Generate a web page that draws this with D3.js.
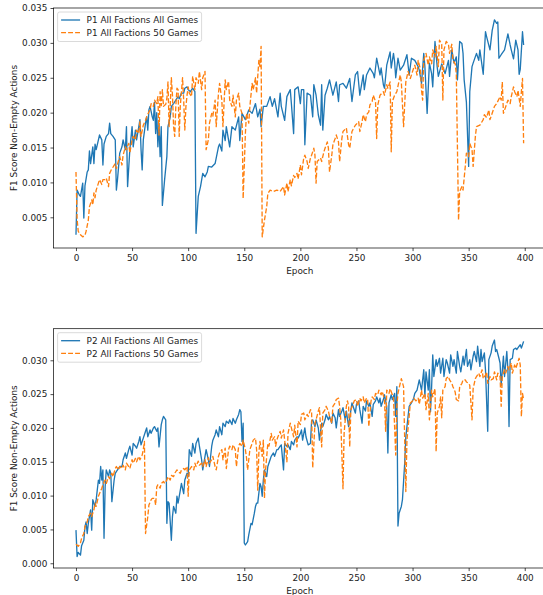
<!DOCTYPE html>
<html>
<head>
<meta charset="utf-8">
<script src="https://cdn.jsdelivr.net/npm/d3@7"></script>
<style>
	body { margin: 0; background: #ffffff; }
	svg { display: block; font-family: "DejaVu Sans", sans-serif; }
</style>
</head>
<body>
<div id="chart"></div>
<script>
// Values, as [epoch, F1 score] pairs.
const p1AllGames = [[0,0.0025],[1,0.0089],[3,0.0082],[4,0.0080],[6,0.0099],[7,0.0049],[8,0.0095],[10,0.0115],[11,0.0118],[12,0.0145],[13,0.0127],[15,0.0151],[16,0.0127],[17,0.0155],[18,0.0147],[20,0.0161],[21,0.0168],[23,0.0161],[24,0.0125],[25,0.0155],[27,0.0166],[29,0.0170],[30,0.0185],[31,0.0170],[33,0.0166],[35,0.0161],[36,0.0089],[37,0.0104],[39,0.0142],[41,0.0151],[42,0.0161],[44,0.0147],[45,0.0180],[46,0.0094],[48,0.0147],[50,0.0180],[51,0.0151],[53,0.0175],[54,0.0161],[56,0.0180],[57,0.0190],[58,0.0147],[59,0.0118],[60,0.0161],[62,0.0185],[63,0.0194],[64,0.0175],[65,0.0204],[66,0.0209],[68,0.0194],[69,0.0189],[70,0.0215],[71,0.0170],[72,0.0200],[73,0.0151],[74,0.0185],[75,0.0137],[76,0.0180],[77,0.0067],[79,0.0104],[81,0.0137],[82,0.0180],[84,0.0194],[85,0.0209],[87,0.0213],[89,0.0218],[91,0.0223],[92,0.0220],[94,0.0228],[96,0.0228],[97,0.0235],[99,0.0237],[100,0.0233],[102,0.0230],[104,0.0235],[106,0.0230],[107,0.0027],[109,0.0080],[111,0.0094],[113,0.0113],[115,0.0108],[117,0.0115],[118,0.0123],[121,0.0122],[124,0.0127],[127,0.0151],[128,0.0155],[130,0.0145],[131,0.0175],[133,0.0160],[134,0.0180],[137,0.0151],[139,0.0180],[142,0.0175],[145,0.0194],[146,0.0160],[148,0.0199],[151,0.0190],[154,0.0204],[157,0.0199],[160,0.0213],[162,0.0194],[164,0.0205],[165,0.0180],[167,0.0209],[170,0.0209],[173,0.0223],[175,0.0209],[177,0.0220],[180,0.0194],[182,0.0228],[183,0.0209],[186,0.0189],[188,0.0223],[191,0.0233],[192,0.0213],[194,0.0170],[195,0.0233],[198,0.0237],[200,0.0213],[201,0.0233],[203,0.0233],[204,0.0154],[206,0.0228],[209,0.0225],[211,0.0194],[212,0.0240],[214,0.0225],[216,0.0197],[218,0.0182],[219,0.0240],[220,0.0175],[222,0.0225],[224,0.0235],[226,0.0247],[229,0.0225],[232,0.0244],[234,0.0216],[235,0.0240],[238,0.0242],[241,0.0235],[244,0.0249],[246,0.0216],[249,0.0254],[251,0.0259],[253,0.0225],[256,0.0254],[257,0.0233],[259,0.0254],[262,0.0264],[265,0.0256],[266,0.0250],[268,0.0278],[271,0.0254],[272,0.0264],[274,0.0240],[275,0.0235],[277,0.0268],[280,0.0287],[281,0.0264],[283,0.0285],[284,0.0273],[285,0.0250],[287,0.0278],[289,0.0261],[292,0.0268],[295,0.0283],[297,0.0254],[299,0.0278],[302,0.0275],[305,0.0266],[306,0.0261],[308,0.0242],[310,0.0285],[311,0.0266],[313,0.0199],[315,0.0271],[317,0.0256],[318,0.0237],[320,0.0302],[322,0.0265],[323,0.0252],[326,0.0270],[329,0.0256],[332,0.0275],[333,0.0252],[335,0.0290],[337,0.0271],[339,0.0280],[340,0.0247],[342,0.0302],[344,0.0299],[345,0.0285],[346,0.0247],[348,0.0215],[350,0.0123],[351,0.0230],[353,0.0266],[354,0.0271],[357,0.0285],[359,0.0275],[360,0.0290],[363,0.0255],[365,0.0316],[366,0.0309],[369,0.0290],[371,0.0318],[373,0.0333],[375,0.0328],[376,0.0330],[377,0.0278],[379,0.0283],[382,0.0290],[385,0.0313],[387,0.0297],[388,0.0290],[390,0.0277],[392,0.0304],[394,0.0290],[395,0.0255],[396,0.0262],[398,0.0316],[399,0.0297]];

const p1FiftyGames = [[0,0.0115],[1,0.0047],[2,0.0030],[4,0.0025],[6,0.0022],[8,0.0024],[9,0.0030],[11,0.0046],[12,0.0065],[14,0.0075],[15,0.0068],[16,0.0085],[17,0.0078],[18,0.0089],[20,0.0099],[21,0.0104],[23,0.0097],[24,0.0104],[26,0.0104],[27,0.0106],[29,0.0094],[30,0.0113],[32,0.0120],[33,0.0122],[35,0.0127],[36,0.0120],[38,0.0132],[39,0.0137],[41,0.0125],[42,0.0139],[44,0.0151],[45,0.0147],[47,0.0156],[48,0.0142],[50,0.0161],[51,0.0166],[53,0.0161],[54,0.0175],[56,0.0170],[57,0.0187],[58,0.0166],[60,0.0182],[62,0.0189],[63,0.0194],[65,0.0201],[66,0.0204],[67,0.0213],[69,0.0209],[70,0.0218],[72,0.0213],[73,0.0223],[74,0.0168],[75,0.0230],[76,0.0210],[77,0.0233],[78,0.0209],[80,0.0212],[81,0.0220],[82,0.0244],[83,0.0180],[84,0.0209],[85,0.0250],[86,0.0225],[87,0.0180],[88,0.0166],[89,0.0209],[90,0.0235],[91,0.0233],[92,0.0166],[93,0.0210],[94,0.0230],[95,0.0250],[96,0.0218],[97,0.0175],[98,0.0209],[99,0.0225],[100,0.0237],[101,0.0228],[103,0.0223],[104,0.0252],[106,0.0233],[107,0.0250],[109,0.0242],[110,0.0259],[112,0.0233],[113,0.0250],[115,0.0259],[116,0.0147],[118,0.0161],[119,0.0185],[121,0.0199],[122,0.0195],[124,0.0218],[125,0.0180],[127,0.0228],[128,0.0242],[130,0.0218],[131,0.0180],[133,0.0247],[134,0.0233],[136,0.0245],[137,0.0218],[139,0.0209],[140,0.0225],[142,0.0194],[143,0.0218],[145,0.0228],[146,0.0209],[148,0.0199],[149,0.0077],[151,0.0170],[152,0.0199],[154,0.0185],[155,0.0209],[157,0.0242],[158,0.0233],[160,0.0250],[161,0.0228],[163,0.0275],[164,0.0266],[165,0.0295],[166,0.0022],[168,0.0046],[170,0.0065],[171,0.0084],[173,0.0089],[176,0.0087],[179,0.0089],[182,0.0087],[185,0.0094],[186,0.0082],[188,0.0099],[189,0.0087],[191,0.0104],[192,0.0095],[194,0.0110],[195,0.0107],[197,0.0113],[198,0.0105],[200,0.0125],[201,0.0111],[203,0.0135],[204,0.0139],[206,0.0130],[207,0.0120],[209,0.0135],[210,0.0139],[212,0.0149],[213,0.0139],[214,0.0099],[215,0.0130],[218,0.0135],[219,0.0130],[221,0.0144],[222,0.0149],[224,0.0158],[225,0.0149],[226,0.0115],[228,0.0139],[229,0.0154],[231,0.0163],[232,0.0168],[234,0.0158],[235,0.0130],[237,0.0163],[238,0.0173],[241,0.0178],[243,0.0154],[244,0.0149],[246,0.0173],[249,0.0182],[252,0.0187],[253,0.0173],[255,0.0187],[256,0.0197],[258,0.0187],[259,0.0197],[261,0.0201],[262,0.0211],[264,0.0216],[265,0.0225],[267,0.0216],[268,0.0163],[269,0.0211],[271,0.0225],[274,0.0230],[275,0.0225],[277,0.0240],[278,0.0235],[280,0.0244],[281,0.0144],[282,0.0216],[284,0.0225],[286,0.0230],[289,0.0254],[290,0.0244],[292,0.0180],[294,0.0244],[296,0.0259],[298,0.0249],[301,0.0264],[302,0.0268],[304,0.0254],[305,0.0275],[307,0.0262],[308,0.0232],[309,0.0218],[310,0.0275],[312,0.0285],[314,0.0268],[315,0.0280],[317,0.0270],[318,0.0290],[320,0.0280],[321,0.0295],[323,0.0266],[324,0.0304],[326,0.0298],[327,0.0218],[328,0.0290],[330,0.0302],[332,0.0298],[333,0.0285],[335,0.0298],[336,0.0275],[338,0.0270],[339,0.0256],[341,0.0046],[342,0.0087],[344,0.0094],[345,0.0089],[347,0.0123],[348,0.0142],[350,0.0137],[351,0.0156],[353,0.0147],[354,0.0123],[356,0.0166],[357,0.0180],[360,0.0182],[363,0.0190],[364,0.0197],[366,0.0193],[368,0.0204],[369,0.0190],[372,0.0204],[373,0.0209],[375,0.0213],[378,0.0223],[379,0.0218],[380,0.0244],[381,0.0199],[384,0.0213],[385,0.0218],[387,0.0213],[388,0.0223],[390,0.0237],[391,0.0230],[393,0.0223],[394,0.0232],[396,0.0209],[397,0.0230],[398,0.0249],[399,0.0156]];

const p2AllGames = [[0,0.0049],[1,0.0010],[2,0.0016],[4,0.0012],[5,0.0026],[7,0.0034],[8,0.0054],[9,0.0061],[10,0.0044],[11,0.0059],[13,0.0079],[14,0.0049],[15,0.0094],[17,0.0084],[18,0.0094],[20,0.0123],[21,0.0118],[22,0.0143],[23,0.0123],[24,0.0138],[25,0.0037],[26,0.0113],[27,0.0138],[29,0.0128],[30,0.0138],[31,0.0133],[32,0.0091],[34,0.0123],[35,0.0133],[37,0.0138],[39,0.0143],[41,0.0143],[42,0.0153],[44,0.0163],[45,0.0155],[47,0.0168],[48,0.0173],[50,0.0160],[51,0.0177],[53,0.0173],[54,0.0170],[56,0.0180],[57,0.0187],[58,0.0175],[60,0.0185],[62,0.0195],[63,0.0200],[64,0.0187],[66,0.0197],[67,0.0192],[69,0.0200],[70,0.0202],[72,0.0195],[73,0.0200],[74,0.0172],[76,0.0205],[77,0.0212],[78,0.0217],[80,0.0212],[81,0.0059],[82,0.0091],[83,0.0089],[85,0.0034],[86,0.0069],[87,0.0084],[89,0.0074],[90,0.0099],[91,0.0089],[93,0.0108],[94,0.0118],[96,0.0103],[97,0.0123],[99,0.0133],[100,0.0128],[101,0.0168],[103,0.0158],[104,0.0177],[106,0.0163],[107,0.0177],[109,0.0185],[110,0.0173],[112,0.0153],[113,0.0138],[115,0.0158],[116,0.0168],[118,0.0153],[119,0.0143],[121,0.0173],[122,0.0182],[124,0.0190],[125,0.0197],[127,0.0187],[128,0.0202],[130,0.0190],[131,0.0207],[133,0.0202],[134,0.0210],[136,0.0207],[137,0.0212],[139,0.0205],[140,0.0214],[142,0.0207],[143,0.0212],[145,0.0220],[146,0.0227],[147,0.0224],[148,0.0180],[149,0.0207],[150,0.0030],[151,0.0027],[153,0.0032],[154,0.0042],[156,0.0059],[157,0.0057],[159,0.0074],[160,0.0084],[161,0.0089],[162,0.0089],[164,0.0118],[165,0.0113],[166,0.0099],[167,0.0123],[168,0.0138],[170,0.0128],[171,0.0143],[173,0.0153],[174,0.0158],[176,0.0163],[177,0.0158],[179,0.0168],[180,0.0168],[182,0.0173],[183,0.0175],[185,0.0138],[186,0.0177],[188,0.0173],[189,0.0175],[191,0.0168],[192,0.0180],[194,0.0175],[195,0.0182],[197,0.0187],[198,0.0185],[200,0.0192],[201,0.0197],[202,0.0182],[204,0.0200],[205,0.0187],[207,0.0175],[209,0.0177],[210,0.0210],[211,0.0212],[213,0.0202],[214,0.0212],[216,0.0200],[217,0.0182],[219,0.0207],[220,0.0202],[222,0.0212],[223,0.0220],[225,0.0212],[226,0.0217],[228,0.0207],[229,0.0222],[231,0.0215],[232,0.0200],[234,0.0227],[235,0.0217],[237,0.0225],[238,0.0230],[240,0.0212],[241,0.0225],[243,0.0202],[244,0.0215],[246,0.0237],[247,0.0232],[249,0.0222],[250,0.0235],[252,0.0240],[253,0.0227],[255,0.0207],[256,0.0232],[258,0.0225],[259,0.0240],[261,0.0232],[262,0.0237],[264,0.0217],[265,0.0235],[267,0.0240],[268,0.0246],[270,0.0237],[271,0.0244],[272,0.0232],[274,0.0242],[275,0.0249],[277,0.0232],[278,0.0163],[279,0.0237],[281,0.0249],[282,0.0242],[284,0.0251],[285,0.0217],[286,0.0261],[287,0.0055],[288,0.0074],[290,0.0084],[291,0.0094],[293,0.0148],[294,0.0187],[296,0.0217],[297,0.0232],[299,0.0237],[301,0.0244],[302,0.0251],[304,0.0256],[306,0.0271],[308,0.0256],[310,0.0286],[311,0.0246],[312,0.0283],[314,0.0256],[315,0.0286],[316,0.0224],[317,0.0261],[318,0.0308],[319,0.0276],[321,0.0301],[322,0.0291],[324,0.0303],[325,0.0281],[327,0.0303],[328,0.0276],[330,0.0301],[331,0.0296],[333,0.0281],[334,0.0308],[336,0.0291],[337,0.0301],[339,0.0281],[340,0.0313],[342,0.0291],[343,0.0283],[345,0.0306],[346,0.0293],[348,0.0316],[349,0.0291],[351,0.0301],[352,0.0286],[354,0.0306],[355,0.0313],[357,0.0298],[358,0.0321],[360,0.0291],[361,0.0316],[362,0.0298],[364,0.0311],[365,0.0286],[367,0.0195],[368,0.0301],[370,0.0311],[371,0.0321],[373,0.0330],[374,0.0313],[375,0.0316],[377,0.0303],[378,0.0296],[379,0.0263],[381,0.0306],[382,0.0276],[384,0.0313],[385,0.0286],[386,0.0202],[387,0.0301],[389,0.0303],[390,0.0316],[392,0.0318],[393,0.0316],[395,0.0321],[396,0.0323],[397,0.0318],[398,0.0323],[399,0.0328]];

const p2FiftyGames = [[0,0.0028],[2,0.0025],[4,0.0030],[5,0.0037],[7,0.0044],[8,0.0054],[10,0.0061],[11,0.0069],[13,0.0074],[14,0.0069],[16,0.0079],[17,0.0089],[18,0.0084],[20,0.0099],[21,0.0103],[23,0.0111],[24,0.0116],[26,0.0123],[27,0.0118],[29,0.0128],[30,0.0125],[32,0.0133],[33,0.0128],[35,0.0140],[36,0.0143],[38,0.0138],[39,0.0143],[41,0.0140],[42,0.0145],[44,0.0138],[45,0.0148],[47,0.0143],[48,0.0140],[50,0.0153],[51,0.0148],[53,0.0155],[54,0.0150],[56,0.0158],[57,0.0153],[59,0.0160],[60,0.0168],[61,0.0180],[62,0.0044],[64,0.0069],[65,0.0086],[67,0.0094],[68,0.0096],[70,0.0096],[71,0.0086],[72,0.0113],[73,0.0116],[75,0.0111],[76,0.0118],[78,0.0121],[79,0.0118],[81,0.0123],[82,0.0128],[84,0.0123],[85,0.0130],[87,0.0128],[88,0.0133],[90,0.0138],[91,0.0135],[93,0.0133],[94,0.0138],[96,0.0140],[97,0.0138],[99,0.0143],[100,0.0099],[101,0.0138],[103,0.0143],[105,0.0138],[106,0.0148],[107,0.0143],[109,0.0151],[110,0.0145],[112,0.0148],[113,0.0143],[115,0.0153],[116,0.0143],[118,0.0156],[119,0.0148],[121,0.0153],[122,0.0158],[124,0.0143],[125,0.0138],[127,0.0158],[128,0.0163],[130,0.0168],[131,0.0153],[133,0.0170],[134,0.0140],[136,0.0168],[137,0.0173],[139,0.0168],[140,0.0175],[142,0.0168],[143,0.0143],[145,0.0173],[146,0.0177],[148,0.0173],[149,0.0182],[151,0.0168],[152,0.0156],[153,0.0138],[155,0.0168],[157,0.0177],[158,0.0182],[160,0.0185],[161,0.0168],[162,0.0108],[163,0.0163],[164,0.0180],[166,0.0158],[167,0.0182],[168,0.0096],[169,0.0138],[171,0.0177],[172,0.0173],[174,0.0192],[175,0.0182],[177,0.0187],[178,0.0173],[179,0.0182],[180,0.0187],[182,0.0195],[183,0.0185],[185,0.0197],[186,0.0182],[188,0.0150],[189,0.0192],[191,0.0207],[192,0.0200],[194,0.0187],[195,0.0204],[197,0.0172],[198,0.0210],[200,0.0205],[201,0.0220],[203,0.0222],[204,0.0212],[206,0.0220],[207,0.0217],[209,0.0227],[210,0.0225],[211,0.0141],[213,0.0207],[214,0.0212],[216,0.0225],[217,0.0230],[219,0.0172],[220,0.0222],[222,0.0227],[223,0.0232],[225,0.0225],[226,0.0217],[228,0.0207],[229,0.0232],[231,0.0237],[232,0.0242],[234,0.0244],[235,0.0232],[236,0.0212],[238,0.0110],[239,0.0192],[241,0.0232],[242,0.0240],[243,0.0232],[244,0.0172],[245,0.0227],[247,0.0235],[248,0.0240],[250,0.0242],[251,0.0232],[253,0.0244],[254,0.0240],[256,0.0246],[257,0.0237],[259,0.0244],[260,0.0242],[261,0.0202],[263,0.0240],[264,0.0246],[266,0.0242],[267,0.0251],[269,0.0249],[270,0.0256],[272,0.0249],[273,0.0254],[275,0.0242],[276,0.0195],[277,0.0256],[279,0.0251],[280,0.0258],[282,0.0249],[283,0.0244],[285,0.0160],[286,0.0232],[287,0.0251],[289,0.0266],[290,0.0273],[292,0.0261],[293,0.0182],[294,0.0106],[295,0.0182],[297,0.0217],[298,0.0237],[300,0.0240],[301,0.0244],[303,0.0240],[304,0.0242],[305,0.0244],[306,0.0235],[308,0.0256],[309,0.0244],[311,0.0251],[312,0.0227],[314,0.0251],[315,0.0212],[317,0.0256],[318,0.0246],[320,0.0258],[321,0.0165],[322,0.0222],[324,0.0232],[325,0.0246],[326,0.0215],[327,0.0256],[329,0.0261],[330,0.0273],[332,0.0276],[333,0.0271],[335,0.0266],[336,0.0261],[338,0.0253],[339,0.0242],[341,0.0240],[342,0.0261],[344,0.0266],[345,0.0271],[347,0.0271],[348,0.0268],[350,0.0266],[351,0.0263],[353,0.0212],[354,0.0258],[356,0.0273],[357,0.0276],[359,0.0281],[360,0.0276],[362,0.0286],[363,0.0273],[365,0.0278],[366,0.0283],[367,0.0266],[369,0.0276],[370,0.0271],[372,0.0273],[373,0.0283],[375,0.0271],[376,0.0281],[378,0.0276],[379,0.0232],[380,0.0276],[382,0.0286],[383,0.0281],[385,0.0291],[386,0.0286],[388,0.0296],[389,0.0281],[391,0.0293],[392,0.0288],[394,0.0298],[395,0.0303],[396,0.0293],[397,0.0217],[398,0.0251],[399,0.0242]];

// Tick values and texts
const epochTicks = [0, 50, 100, 150, 200, 250, 300, 350, 400];
const p1ScoreTicks = [0.005, 0.010, 0.015, 0.020, 0.025, 0.030, 0.035];
const p2ScoreTicks = [0.000, 0.005, 0.010, 0.015, 0.020, 0.025, 0.030];
const p1SeriesNames = ['P1 All Factions All Games', 'P1 All Factions 50 Games'];
const p2SeriesNames = ['P2 All Factions All Games', 'P2 All Factions 50 Games'];

const width = 543;
const height = 595;
const fontSize = 8.9;
const left = 53.6;
const right = 546; // the right spine falls just outside the picture
const colours = ['#1f77b4', '#ff7f0e'];
const dashes = [null, '4.9,2.1'];

const svg = d3.select('#chart')
	.append('svg')
	.attr('width', width)
	.attr('height', height);

// Draw one of the two stacked panels
function drawPanel(id, top, bottom, yDomain, yTicks, series, names) {
	const x = d3.scaleLinear().domain([-19.95, 418.95]).range([left, right]);
	const y = d3.scaleLinear().domain(yDomain).range([bottom, top]);

	svg.append('clipPath')
		.attr('id', `clip${id}`)
		.append('rect')
		.attr('x', left)
		.attr('y', top)
		.attr('width', right - left)
		.attr('height', bottom - top);

	const line = d3.line()
		.x((d) => x(d[0]))
		.y((d) => y(d[1]));

	const plot = svg.append('g').attr('clip-path', `url(#clip${id})`);
	series.forEach((s, i) => {
		plot.append('path')
			.datum(s)
			.attr('d', line)
			.attr('fill', 'none')
			.attr('stroke', colours[i])
			.attr('stroke-width', 1.33)
			.attr('stroke-linejoin', 'round')
			.attr('stroke-dasharray', dashes[i]);
	});

	// Axes
	const xAxis = svg.append('g')
		.attr('transform', `translate(0,${bottom})`)
		.call(d3.axisBottom(x).tickValues(epochTicks).tickSize(3.1).tickPadding(3.1));
	const yAxis = svg.append('g')
		.attr('transform', `translate(${left},0)`)
		.call(d3.axisLeft(y).tickValues(yTicks).tickFormat(d3.format('.3f')).tickSize(3.1).tickPadding(3.1));

	[xAxis, yAxis].forEach((a) => {
		a.select('.domain').remove();
		a.selectAll('line').attr('stroke', '#000').attr('stroke-width', 0.7);
		a.selectAll('text')
			.attr('fill', '#222')
			.style('font-size', `${fontSize}px`)
			.style('font-family', '"DejaVu Sans", sans-serif');
	});

	// Frame
	svg.append('rect')
		.attr('x', left)
		.attr('y', top)
		.attr('width', right - left)
		.attr('height', bottom - top)
		.attr('fill', 'none')
		.attr('stroke', '#000')
		.attr('stroke-width', 0.7);

	// Axis titles
	svg.append('text')
		.attr('x', (left + right) / 2)
		.attr('y', bottom + 25.5)
		.attr('text-anchor', 'middle')
		.attr('fill', '#222')
		.style('font-size', `${fontSize}px`)
		.text('Epoch');

	svg.append('text')
		.attr('transform', `translate(17,${(top + bottom) / 2}) rotate(-90)`)
		.attr('text-anchor', 'middle')
		.attr('fill', '#222')
		.style('font-size', `${fontSize}px`)
		.text('F1 Score Non-Empty Actions');

	// Legend
	const legend = svg.append('g').attr('transform', `translate(${left + 4},${top + 4})`);
	legend.append('rect')
		.attr('width', 144)
		.attr('height', 29.5)
		.attr('rx', 2)
		.attr('fill', '#fff')
		.attr('fill-opacity', 0.8)
		.attr('stroke', '#d0d0d0')
		.attr('stroke-width', 0.8);

	names.forEach((name, i) => {
		const rowY = 8 + i * 12.7;
		legend.append('line')
			.attr('x1', 3.5)
			.attr('x2', 22.5)
			.attr('y1', rowY)
			.attr('y2', rowY)
			.attr('stroke', colours[i])
			.attr('stroke-width', 1.33)
			.attr('stroke-dasharray', dashes[i]);
		legend.append('text')
			.attr('x', 29)
			.attr('y', rowY)
			.attr('dy', '0.35em')
			.attr('fill', '#222')
			.style('font-size', `${fontSize}px`)
			.text(name);
	});
}

drawPanel(1, 8, 248, [0.0006, 0.035], p1ScoreTicks, [p1AllGames, p1FiftyGames], p1SeriesNames);
drawPanel(2, 328.7, 568, [-0.0007, 0.03467], p2ScoreTicks, [p2AllGames, p2FiftyGames], p2SeriesNames);
</script>
</body>
</html>
